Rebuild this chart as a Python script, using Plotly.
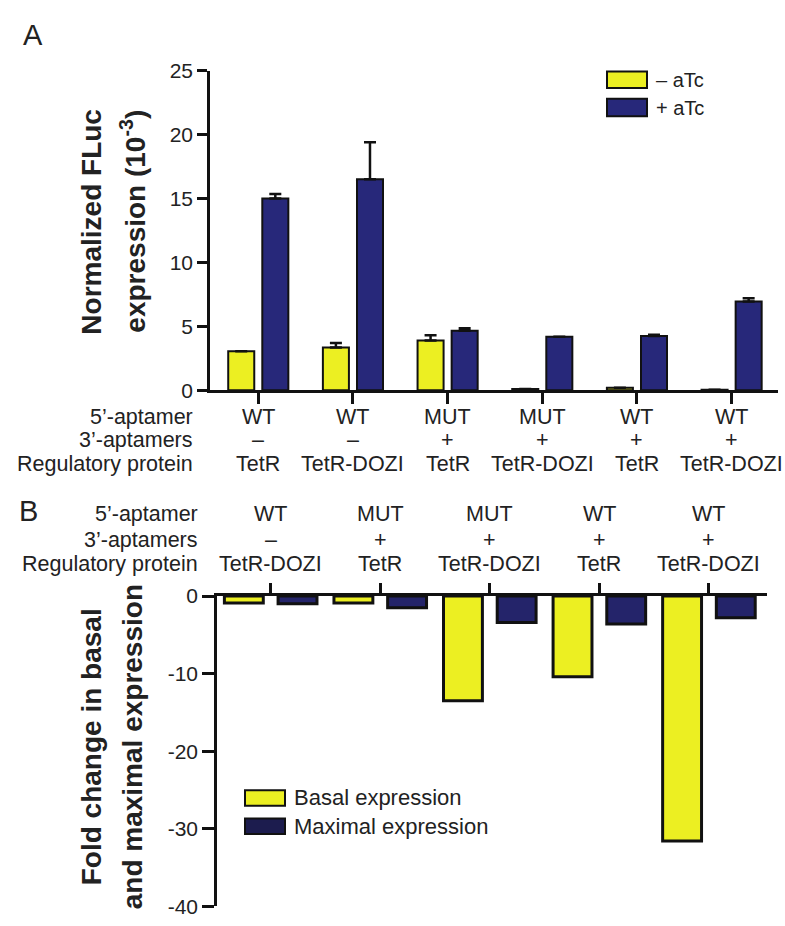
import plotly.graph_objects as go

# ---------------- data ----------------
# Panel A
a_aptamer5 = ["WT", "WT", "MUT", "MUT", "WT", "WT"]
a_aptamer3 = ["–", "–", "+", "+", "+", "+"]
a_protein = ["TetR", "TetR-DOZI", "TetR", "TetR-DOZI", "TetR", "TetR-DOZI"]
a_minus_atc = [3.05, 3.35, 3.9, 0.1, 0.2, 0.05]
a_minus_err = [0.0, 0.35, 0.4, 0.0, 0.0, 0.0]
a_plus_atc = [15.0, 16.5, 4.65, 4.2, 4.25, 6.95]
a_plus_err = [0.35, 2.9, 0.2, 0.0, 0.1, 0.25]
a_yticks = [0, 5, 10, 15, 20, 25]
a_yticktext = ["0", "5", "10", "15", "20", "25"]

# Panel B
b_aptamer5 = ["WT", "MUT", "MUT", "WT", "WT"]
b_aptamer3 = ["–", "+", "+", "+", "+"]
b_protein = ["TetR-DOZI", "TetR", "TetR-DOZI", "TetR", "TetR-DOZI"]
b_basal = [-0.9, -0.9, -13.5, -10.4, -31.6]
b_maximal = [-1.0, -1.5, -3.4, -3.6, -2.8]
b_yticks = [0, -10, -20, -30, -40]
b_yticktext = ["0", "-10", "-20", "-30", "-40"]

row_labels = ["5’-aptamer", "3’-aptamers", "Regulatory protein"]

YELLOW = "#ecef22"
BLUE_A = "#27287a"
BLUE_B = "#24246a"
EDGE = "#111111"
TXT = "#222222"
FONT = "Liberation Sans, Arial, sans-serif"

W, H = 785, 926


def px(x):
    return x / W


def py(y):
    return 1 - y / H


fig = go.Figure()

xa = list(range(len(a_aptamer5)))
xb = list(range(len(b_aptamer5)))

wa = 0.275
fig.add_trace(go.Bar(x=xa, y=a_minus_atc, name="– aTc", width=wa, offset=-0.18 - wa / 2,
                     marker=dict(color=YELLOW, line=dict(color=EDGE, width=2)),
                     error_y=dict(type="data", symmetric=False, array=a_minus_err,
                                  arrayminus=[0] * len(a_minus_err), color=EDGE,
                                  thickness=2.5, width=6),
                     xaxis="x", yaxis="y", showlegend=False))
fig.add_trace(go.Bar(x=xa, y=a_plus_atc, name="+ aTc", width=wa, offset=0.18 - wa / 2,
                     marker=dict(color=BLUE_A, line=dict(color=EDGE, width=2)),
                     error_y=dict(type="data", symmetric=False, array=a_plus_err,
                                  arrayminus=[0] * len(a_plus_err), color=EDGE,
                                  thickness=2.5, width=6),
                     xaxis="x", yaxis="y", showlegend=False))

wb = 0.355
fig.add_trace(go.Bar(x=xb, y=b_basal, name="Basal expression", width=wb, offset=-0.245 - wb / 2,
                     marker=dict(color=YELLOW, line=dict(color=EDGE, width=3)),
                     xaxis="x2", yaxis="y2", showlegend=False))
fig.add_trace(go.Bar(x=xb, y=b_maximal, name="Maximal expression", width=wb, offset=0.245 - wb / 2,
                     marker=dict(color=BLUE_B, line=dict(color=EDGE, width=3)),
                     xaxis="x2", yaxis="y2", showlegend=False))

axis_common = dict(showline=True, linecolor=EDGE, linewidth=2.5, ticks="outside",
                   tickcolor=EDGE, tickwidth=2.5, showgrid=False, zeroline=False)

fig.update_layout(
    width=W, height=H, margin=dict(l=0, r=0, t=0, b=0),
    paper_bgcolor="white", plot_bgcolor="white",
    font=dict(family=FONT, color=TXT),
    xaxis=dict(domain=[px(210), px(778)], range=[-0.51, 5.49], anchor="y",
               tickvals=xa, showticklabels=False, ticklen=11, **axis_common),
    yaxis=dict(domain=[py(388), py(60)], range=[0, 25], anchor="x",
               tickvals=a_yticks, ticktext=a_yticktext, ticklen=10,
               tickfont=dict(size=21, family=FONT, color=TXT), **axis_common),
    xaxis2=dict(domain=[px(217), px(767)], range=[-0.49, 4.53], anchor="y2", side="top",
                tickvals=xb, showticklabels=False, ticklen=10, **axis_common),
    yaxis2=dict(domain=[py(917), py(599)], range=[-40, 0], anchor="x2",
                tickvals=b_yticks, ticktext=b_yticktext, ticklen=12,
                tickfont=dict(size=21, family=FONT, color=TXT), **axis_common),
)

ann = []
# panel letters
ann.append(dict(text="A", x=px(33), y=py(24), xref="paper", yref="paper", showarrow=False,
                font=dict(size=29, family=FONT, color=TXT), xanchor="center", yanchor="middle"))
ann.append(dict(text="B", x=px(28), y=py(512), xref="paper", yref="paper", showarrow=False,
                font=dict(size=29, family=FONT, color=TXT), xanchor="center", yanchor="middle"))

# y titles
title_font = dict(size=28, family=FONT, color=TXT, weight="bold")
ann.append(dict(text="Normalized FLuc", x=px(92), y=py(215), xref="paper", yref="paper",
                textangle=-90, showarrow=False, font=title_font, xanchor="center", yanchor="middle"))
ann.append(dict(text="expression (10<sup>-3</sup>)", x=px(133), y=py(215), xref="paper", yref="paper",
                textangle=-90, showarrow=False, font=title_font, xanchor="center", yanchor="middle"))
ann.append(dict(text="Fold change in basal", x=px(91), y=py(754), xref="paper", yref="paper",
                textangle=-90, showarrow=False, font=title_font, xanchor="center", yanchor="middle"))
ann.append(dict(text="and maximal expression", x=px(132), y=py(754), xref="paper", yref="paper",
                textangle=-90, showarrow=False, font=title_font, xanchor="center", yanchor="middle"))

# category annotation rows
cat_font = dict(size=21.5, family=FONT, color=TXT)
a_rows_y = [415, 439, 463]
b_rows_y = [515, 541, 566]
for lab, yy in zip(row_labels, a_rows_y):
    ann.append(dict(text=lab, x=px(195), y=py(yy), xref="paper", yref="paper", showarrow=False,
                    font=cat_font, xanchor="right", yanchor="middle"))
for lab, yy in zip(row_labels, b_rows_y):
    ann.append(dict(text=lab, x=px(200), y=py(yy), xref="paper", yref="paper", showarrow=False,
                    font=cat_font, xanchor="right", yanchor="middle"))
for rowvals, yy in zip([a_aptamer5, a_aptamer3, a_protein], a_rows_y):
    for i, v in enumerate(rowvals):
        ann.append(dict(text=v, x=xa[i], y=py(yy), xref="x", yref="paper", showarrow=False,
                        font=cat_font, xanchor="center", yanchor="middle"))
for rowvals, yy in zip([b_aptamer5, b_aptamer3, b_protein], b_rows_y):
    for i, v in enumerate(rowvals):
        ann.append(dict(text=v, x=xb[i], y=py(yy), xref="x2", yref="paper", showarrow=False,
                        font=cat_font, xanchor="center", yanchor="middle"))

# manual legends
shapes = []
legA = [("– aTc", YELLOW, 61, 78), ("+ aTc", BLUE_A, 89, 107)]
for name, col, y0, y1 in legA:
    shapes.append(dict(type="rect", xref="paper", yref="paper", x0=px(607), x1=px(647),
                       y0=py(y1), y1=py(y0), fillcolor=col, line=dict(color=EDGE, width=2)))
    ann.append(dict(text=name, x=px(654), y=py((y0 + y1) / 2), xref="paper", yref="paper",
                    showarrow=False, font=dict(size=20, family=FONT, color=TXT),
                    xanchor="left", yanchor="middle"))
legB = [("Basal expression", YELLOW, 798, 814), ("Maximal expression", "#1c1c4e", 827, 843)]
for name, col, y0, y1 in legB:
    shapes.append(dict(type="rect", xref="paper", yref="paper", x0=px(245), x1=px(285),
                       y0=py(y1), y1=py(y0), fillcolor=col, line=dict(color=EDGE, width=2)))
    ann.append(dict(text=name, x=px(292), y=py((y0 + y1) / 2), xref="paper", yref="paper",
                    showarrow=False, font=dict(size=22, family=FONT, color=TXT),
                    xanchor="left", yanchor="middle"))

fig.update_layout(annotations=ann, shapes=shapes)

fig.write_html("out.html")
